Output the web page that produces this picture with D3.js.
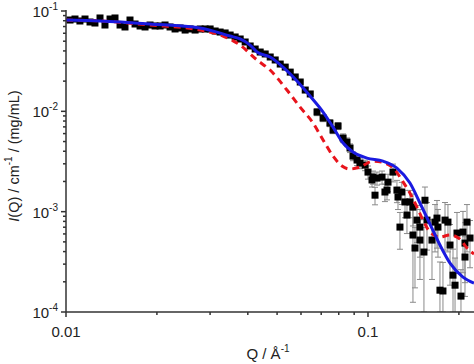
<!DOCTYPE html>
<html><head><meta charset="utf-8">
<script src="https://cdn.jsdelivr.net/npm/d3@7"></script>
<style>body{margin:0;background:#fff}svg{display:block}</style>
</head><body>
<svg id="c" width="474" height="364"></svg>
<script>
// Measured data (Q in 1/Å, I in cm^-1/(mg/mL))
const dataQ = [0.01031,0.01071,0.01112,0.01156,0.01201,0.01247,0.01296,0.01346,0.01399,0.01453,0.01510,0.01568,0.01629,0.01693,0.01759,0.01827,0.01898,0.01972,0.02049,0.02128,0.02211,0.02297,0.02387,0.02480,0.02576,0.02676,0.02781,0.02889,0.03001,0.03118,0.03239,0.03365,0.03496,0.03632,0.03774,0.03920,0.04073,0.04231,0.04396,0.04567,0.04745,0.04929,0.05121,0.05320,0.05527,0.05742,0.05965,0.06197,0.06438,
0.0678,0.0710,0.0748,0.0766,0.0796,0.0827,0.0852,0.0872,0.0892,0.0920,0.0941,0.0978,0.1000,0.1031,0.1039,0.1055,0.1071,0.1113,0.1138,0.1156,0.1165,0.1210,0.1247,0.1257,0.1276,0.1294,0.1326,0.1346,0.1377,0.1409,0.1409,0.1431,0.1453,0.1486,0.1486,0.1532,0.1544,0.1568,0.1629,0.1667,0.1692,0.1705,0.1731,0.1771,0.1799,0.1840,0.1869,0.1912,0.1942,0.1971,0.2032,0.2063,0.2095,0.2095,0.2127,0.2177];
const dataI = [0.0813,0.0832,0.0795,0.0832,0.0777,0.0759,0.0852,0.0725,0.0832,0.0852,0.0725,0.0693,0.0813,0.0742,0.0709,0.0693,0.0725,0.0709,0.0709,0.0725,0.0693,0.0662,0.0677,0.0646,0.0662,0.0646,0.0662,0.0662,0.0662,0.0632,0.0617,0.0604,0.0576,0.0551,0.0526,0.0491,0.0448,0.0418,0.0390,0.0373,0.0348,0.0325,0.0296,0.0276,0.0246,0.0220,0.0196,0.0163,0.0149,
0.00984,0.00858,0.00764,0.00651,0.00714,0.00542,0.00494,0.00431,0.00358,0.00327,0.00305,0.00291,0.00248,0.00207,0.00221,0.00146,0.00216,0.00221,0.00157,0.00164,0.00197,0.00248,0.00164,0.00140,0.000702,0.00157,0.00125,0.000925,0.00125,0.00111,0.000585,0.000434,0.000824,0.000702,0.000521,0.000396,0.00130,0.000824,0.000521,0.000787,0.000863,0.000702,0.000165,0.000162,0.000824,0.000787,0.000465,0.000233,0.000185,0.000612,0.000144,0.000626,0.000486,0.000353,0.000787,0.000546];
const dataErr = [0.0016,0.0017,0.0016,0.0017,0.0016,0.0015,0.0017,0.0015,0.0017,0.0017,0.0015,0.0014,0.0016,0.0015,0.0014,0.0014,0.0015,0.0014,0.0014,0.0015,0.0014,0.0013,0.0014,0.0013,0.0013,0.0013,0.0013,0.0013,0.0013,0.0013,0.0012,0.0012,0.0012,0.0011,0.0011,0.0010,0.0009,0.0008,0.0008,0.0007,0.0007,0.0007,0.0006,0.0006,0.0005,0.0004,0.0004,0.0008,0.0007,
0.00079,0.00069,0.00061,0.00052,0.00057,0.00054,0.00049,0.00043,0.00036,0.00039,0.00037,0.00035,0.00037,0.00031,0.00033,0.00029,0.00032,0.00033,0.00031,0.00033,0.00039,0.00050,0.00041,0.00035,0.00028,0.00039,0.00038,0.00032,0.00038,0.00039,0.00046,0.00026,0.00033,0.00035,0.00031,0.00030,0.00046,0.00041,0.00031,0.00039,0.00043,0.00035,0.00015,0.00015,0.00041,0.00039,0.00028,0.00019,0.00016,0.00037,0.00012,0.00038,0.00029,0.00021,0.00039,0.00027];

// Model fit (blue solid)
const fitQ = [0.0100,0.01296,0.01897,0.02778,0.0349,0.0377,0.0407,0.0429,0.0474,0.0523,0.0586,0.0643,0.0710,0.0766,0.0827,0.0892,0.0992,0.1121,0.1247,0.1377,0.1486,0.1604,0.1731,0.1869,0.2063,0.2244];
const fitI = [0.0813,0.0795,0.0742,0.0677,0.0563,0.0526,0.0458,0.0390,0.0348,0.0276,0.0196,0.0142,0.00984,0.00697,0.00483,0.00393,0.00342,0.00319,0.00272,0.00193,0.00122,0.000752,0.000465,0.000307,0.000223,0.000194];

// Alternative model (red dashed)
const altQ = [0.0100,0.01296,0.01897,0.02778,0.0331,0.0377,0.0429,0.0474,0.0539,0.0596,0.0658,0.0710,0.0766,0.0820,0.0872,0.0941,0.1039,0.1138,0.1229,0.1294,0.1377,0.1453,0.1521,0.1604,0.1731,0.1869,0.2017,0.2127,0.2244];
const altI = [0.0813,0.0795,0.0725,0.0646,0.0563,0.0458,0.0325,0.0258,0.0163,0.0110,0.00764,0.00518,0.00358,0.00285,0.00266,0.00279,0.00319,0.00305,0.00260,0.00207,0.00153,0.00111,0.000824,0.000626,0.000558,0.000585,0.000533,0.000434,0.000378];

const xMajor = [0.01, 0.1];
const xMajorLabels = ["0.01", "0.1"];
const yMajor = [1e-4, 1e-3, 1e-2, 1e-1];
const yMajorExp = ["-4", "-3", "-2", "-1"];

const svg = d3.select("#c");
const L = 66, R = 474, T = 11, B = 312;
const x = d3.scaleLog().domain([0.01, 0.2244]).range([L, R]);
const y = d3.scaleLog().domain([1e-4, 1e-1]).range([B, T]);

const defs = svg.append("defs");
defs.append("clipPath").attr("id","clip").append("rect")
  .attr("x", L).attr("y", 0).attr("width", R - L + 2).attr("height", B);

const plot = svg.append("g").attr("clip-path","url(#clip)");

const pts = dataQ.map((q,i)=>({q, v:dataI[i], e:dataErr[i]}));
const lowOf = d => Math.max(d.v - d.e, 1e-4);

// error bars
const eb = plot.append("g").attr("stroke","#8a8a8a").attr("stroke-width",1).attr("fill","none");
pts.forEach(d=>{
  const cx = x(d.q), y1 = y(d.v + d.e), y0 = y(lowOf(d));
  eb.append("line").attr("x1",cx).attr("x2",cx).attr("y1",y1).attr("y2",y0);
  eb.append("line").attr("x1",cx-3).attr("x2",cx+3).attr("y1",y1).attr("y2",y1);
  eb.append("line").attr("x1",cx-3).attr("x2",cx+3).attr("y1",y0).attr("y2",y0);
});

// squares
plot.append("g").selectAll("rect").data(pts).join("rect")
  .attr("x", d=>x(d.q)-3.5).attr("y", d=>y(d.v)-3.5)
  .attr("width",7).attr("height",7).attr("fill","#000");

const line = d3.line().curve(d3.curveMonotoneX);

plot.append("path")
  .attr("d", line(altQ.map((q,i)=>[x(q), y(altI[i])])))
  .attr("fill","none").attr("stroke","#e8141c").attr("stroke-width",3)
  .attr("stroke-dasharray","7,5");

plot.append("path")
  .attr("d", line(fitQ.map((q,i)=>[x(q), y(fitI[i])])))
  .attr("fill","none").attr("stroke","#1a1ae0").attr("stroke-width",3);

// axes
const axCol = "#333";
const ax = svg.append("g").attr("stroke", axCol).attr("stroke-width",1.5);
ax.append("line").attr("x1",L).attr("x2",R).attr("y1",B).attr("y2",B);
ax.append("line").attr("x1",L).attr("x2",L).attr("y1",B).attr("y2",T-1);

// x ticks
const xMinor = [];
[0.01,0.1].forEach(b=>{for(let k=2;k<=9;k++){const v=b*k; if(v<=0.2244) xMinor.push(v);}});
xMajor.forEach(v=>ax.append("line").attr("x1",x(v)).attr("x2",x(v)).attr("y1",B).attr("y2",B+5));
xMinor.forEach(v=>ax.append("line").attr("x1",x(v)).attr("x2",x(v)).attr("y1",B).attr("y2",B+3));
// y ticks
const yMinor = [];
[1e-4,1e-3,1e-2].forEach(b=>{for(let k=2;k<=9;k++) yMinor.push(b*k);});
yMajor.forEach(v=>ax.append("line").attr("x1",L).attr("x2",L-5).attr("y1",y(v)).attr("y2",y(v)));
yMinor.forEach(v=>ax.append("line").attr("x1",L).attr("x2",L-3).attr("y1",y(v)).attr("y2",y(v)));

const font = "Liberation Sans, Arial, sans-serif";
// x labels
xMajor.forEach((v,i)=>{
  svg.append("text").attr("x",x(v)).attr("y",B+25).attr("text-anchor","middle")
    .attr("font-family",font).attr("font-size",15).attr("fill","#222").text(xMajorLabels[i]);
});
// y labels
yMajor.forEach((v,i)=>{
  const t = svg.append("text").attr("x",L-8).attr("y",y(v)+6).attr("text-anchor","end")
    .attr("font-family",font).attr("font-size",15).attr("fill","#222");
  t.append("tspan").text("10");
  t.append("tspan").attr("dy",-7).attr("font-size",10).text(yMajorExp[i]);
});

// x title
const xt = svg.append("text").attr("x",268).attr("y",359).attr("text-anchor","middle")
  .attr("font-family",font).attr("font-size",15).attr("fill","#222");
xt.append("tspan").text("Q / Å");
xt.append("tspan").attr("dy",-7).attr("font-size",10).text("-1");

// y title
const yt = svg.append("text").attr("transform","translate(19,156) rotate(-90)").attr("text-anchor","middle")
  .attr("font-family",font).attr("font-size",14.5).attr("fill","#222");
yt.append("tspan").attr("font-style","italic").text("I");
yt.append("tspan").text("(Q) / cm");
yt.append("tspan").attr("dy",-7).attr("font-size",10).text("-1");
yt.append("tspan").attr("dy",7).text(" / (mg/mL)");
</script>
</body></html>
